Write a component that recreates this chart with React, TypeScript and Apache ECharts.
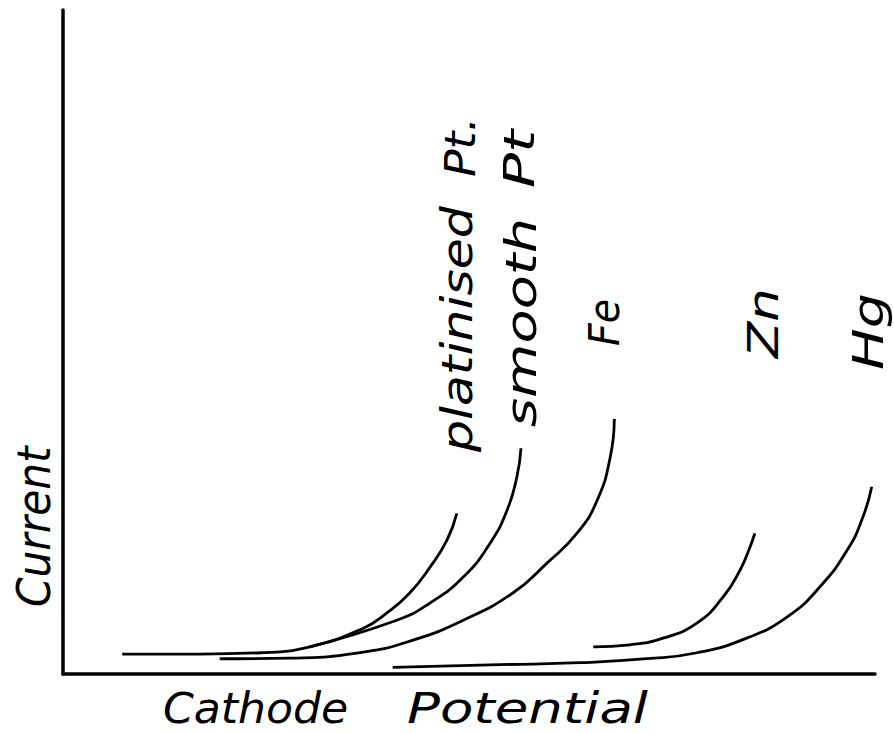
import React, { useEffect, useRef } from "react";
import * as echarts from "echarts";

// Series names (labels written beside each curve)
const seriesNames = ["platinised Pt.", "smooth Pt", "Fe", "Zn", "Hg"];
const xAxisTitle = "Cathode Potential";
const yAxisTitle = "Current";

// Curve values [cathode potential, current] (arbitrary units)
const platinisedPt = [
  [7.3, 3.0], [16.9, 3.0], [24.3, 3.2], [30.4, 4.1], [37.0, 6.9], [39.9, 9.2],
  [42.7, 12.2], [45.2, 16.1], [47.3, 20.2], [48.5, 24.2],
];
const smoothPt = [
  [30.4, 4.1], [41.1, 8.1], [45.2, 10.7], [49.3, 14.6], [52.6, 19.7], [54.7, 24.7],
  [55.9, 29.7], [56.4, 34.0],
];
const fe = [
  [19.3, 2.3], [28.0, 2.4], [37.0, 3.3], [43.1, 5.1], [49.3, 8.1], [55.4, 12.2],
  [59.6, 16.7], [63.3, 21.2], [65.8, 26.2], [67.4, 32.7], [67.9, 38.4],
];
const zn = [
  [65.3, 4.1], [69.8, 4.4], [73.9, 5.4], [78.1, 7.7], [81.3, 11.6], [83.4, 15.7],
  [84.6, 19.1], [85.2, 21.2],
];
const hg = [
  [40.6, 1.0], [53.8, 1.4], [63.7, 1.7], [71.9, 2.3], [78.1, 3.2], [84.2, 5.4],
  [89.2, 8.6], [93.2, 13.1], [96.6, 18.7], [98.5, 23.6], [99.6, 28.2],
];
const seriesData = [platinisedPt, smoothPt, fe, zn, hg];

const FONT = '"DejaVu Sans", "Liberation Sans", sans-serif';

function vText(text: string, x: number, y: number, size: number, sx: number) {
  return {
    type: "text",
    x,
    y,
    rotation: Math.PI / 2,
    scaleX: sx,
    silent: true,
    style: {
      text,
      fill: "#000",
      fontSize: size,
      fontFamily: FONT,
      fontStyle: "italic",
      fontWeight: 200,
      align: "left",
      verticalAlign: "middle",
    },
  };
}
function hText(text: string, x: number, y: number, size: number, sx: number) {
  return {
    type: "text",
    x,
    y,
    scaleX: sx,
    silent: true,
    style: {
      text,
      fill: "#000",
      fontSize: size,
      fontFamily: FONT,
      fontStyle: "italic",
      fontWeight: 200,
      align: "left",
      verticalAlign: "middle",
    },
  };
}

export default function App() {
  const ref = useRef<HTMLDivElement>(null);
  useEffect(() => {
    if (!ref.current) return;
    const chart = echarts.init(ref.current, null, { renderer: "svg" });
    const [plat, smooth, feN, znN, hgN] = seriesNames;
    const platWords = plat.split(" ");
    const smoothWords = smooth.split(" ");
    const xWords = xAxisTitle.split(" ");
    chart.setOption({
      animation: false,
      backgroundColor: "#fff",
      grid: { left: 63, right: 19, top: 10, bottom: 59, containLabel: false },
      xAxis: {
        type: "value",
        min: 0,
        max: 100,
        axisLine: { show: true, lineStyle: { color: "#000", width: 3.5 } },
        axisTick: { show: false },
        axisLabel: { show: false },
        splitLine: { show: false },
      },
      yAxis: {
        type: "value",
        min: 0,
        max: 100,
        axisLine: { show: true, lineStyle: { color: "#000", width: 3.5 } },
        axisTick: { show: false },
        axisLabel: { show: false },
        splitLine: { show: false },
      },
      series: seriesData.map((d, i) => ({
        type: "line",
        name: seriesNames[i],
        data: d,
        symbol: "none",
        smooth: 0.5,
        lineStyle: { color: "#000", width: 2.8 },
        silent: true,
      })),
      graphic: [
        vText(platWords[0], 458, 452, 42, 1.2),
        vText(platWords[1], 460, 177, 42, 1.09),
        vText(smoothWords[0], 522, 427, 42, 1.33),
        vText(smoothWords[1], 520, 188, 42, 1.39),
        vText(feN, 605, 346, 42, 0.94),
        vText(znN, 763, 358, 42, 1.26),
        vText(hgN, 868, 370, 42, 1.32),
        vText(yAxisTitle, 34, 607, 46, 0.92),
        hText(xWords[0], 163, 708, 42, 1.05),
        hText(xWords[1], 407, 708, 42, 1.3),
      ],
    });
    return () => chart.dispose();
  }, []);
  return (
    <div
      ref={ref}
      style={{ position: "absolute", left: 0, top: 0, width: 894, height: 733, background: "#fff" }}
    />
  );
}
